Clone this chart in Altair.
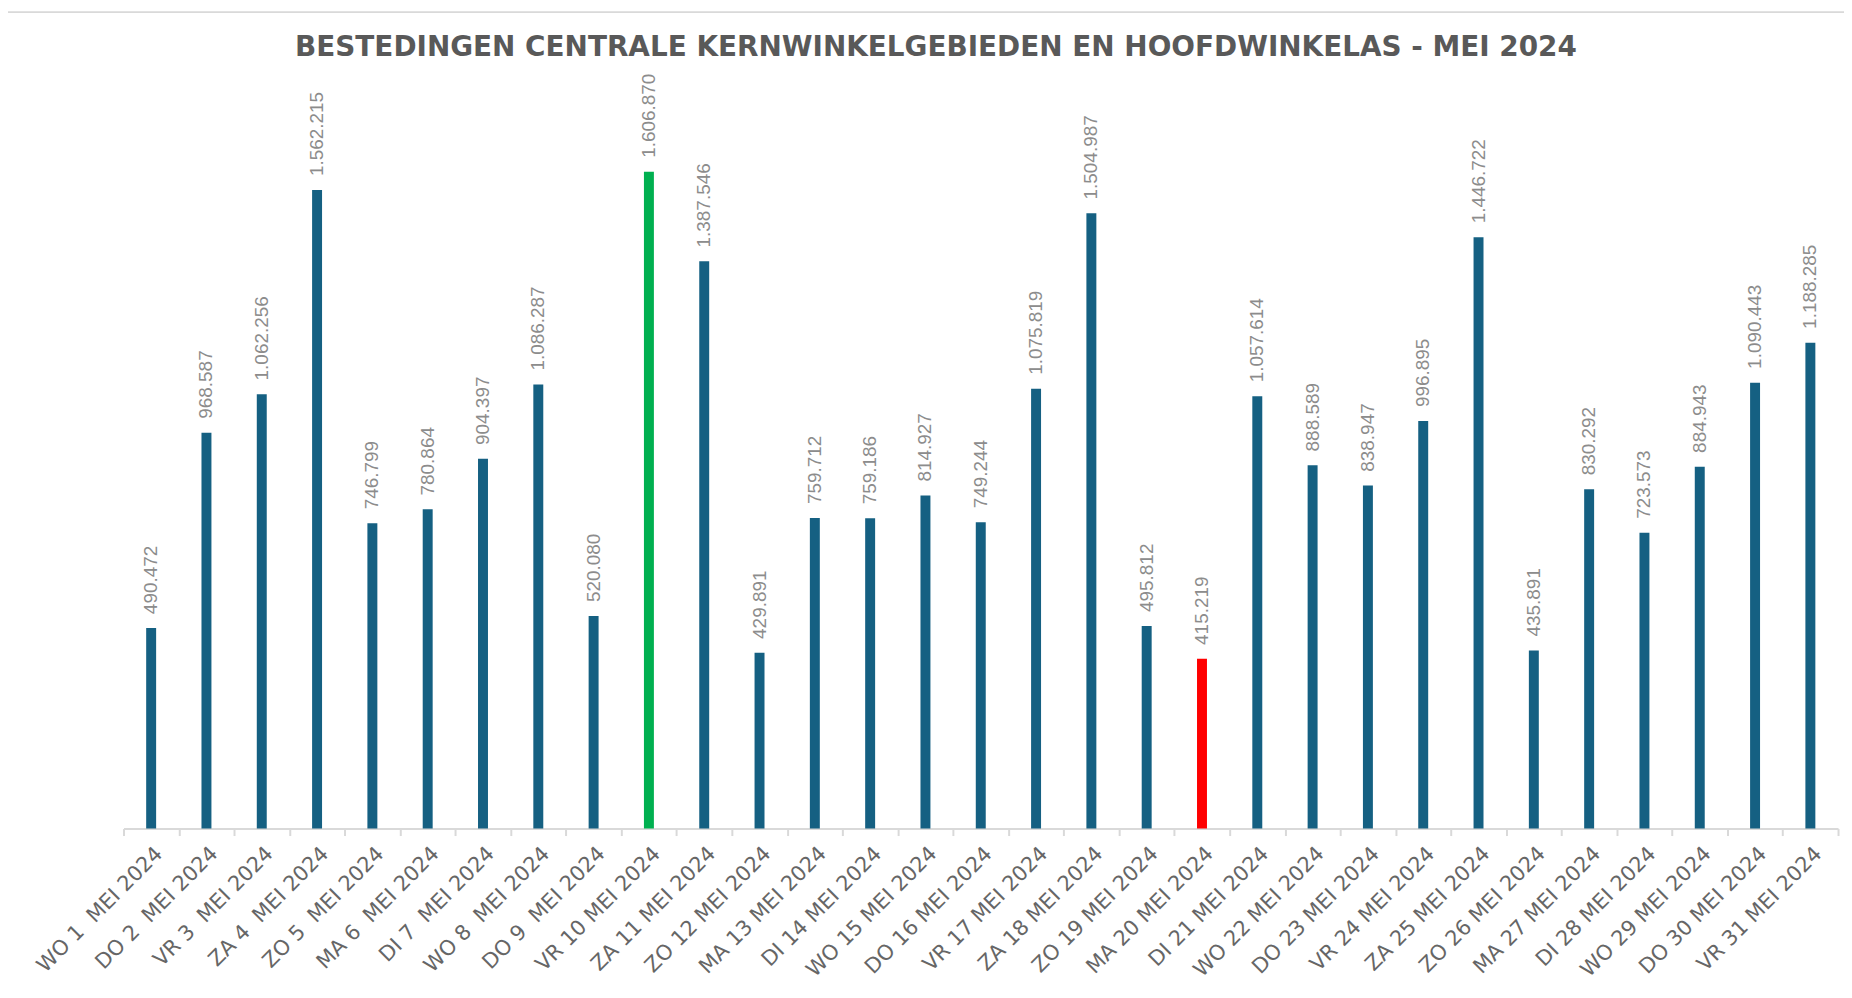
import altair as alt
import pandas as pd

days = ["WO 1", "DO 2", "VR 3", "ZA 4", "ZO 5", "MA 6", "DI 7", "WO 8", "DO 9", "VR 10",
        "ZA 11", "ZO 12", "MA 13", "DI 14", "WO 15", "DO 16", "VR 17", "ZA 18", "ZO 19", "MA 20",
        "DI 21", "WO 22", "DO 23", "VR 24", "ZA 25", "ZO 26", "MA 27", "DI 28", "WO 29", "DO 30", "VR 31"]
values = [490472, 968587, 1062256, 1562215, 746799, 780864, 904397, 1086287, 520080, 1606870,
          1387546, 429891, 759712, 759186, 814927, 749244, 1075819, 1504987, 495812, 415219,
          1057614, 888589, 838947, 996895, 1446722, 435891, 830292, 723573, 884943, 1090443, 1188285]
title_text = "BESTEDINGEN CENTRALE KERNWINKELGEBIEDEN EN HOOFDWINKELAS - MEI 2024"

labels = []
for d in days:
    num = d.split(" ")[1]
    sep = "\u00a0 " if len(num) == 1 else " "
    labels.append(d + sep + "MEI 2024")

vmax, vmin = max(values), min(values)
df = pd.DataFrame({
    "dag": labels,
    "waarde": values,
    "tekst": [f"{v:,}".replace(",", ".") for v in values],
    "status": ["max" if v == vmax else ("min" if v == vmin else "normaal") for v in values],
})

W, H = 1722, 739
x_enc = alt.X("dag:N", sort=labels, title=None,
              scale=alt.Scale(paddingInner=0, paddingOuter=0),
              axis=alt.Axis(labelAngle=-45, labelFont="DejaVu Sans", labelFontSize=21,
                            labelColor="#666666", domainColor="#d9d9d9", domainWidth=2,
                            tickColor="#d9d9d9", tickSize=7, tickWidth=2, tickBand="extent",
                            labelPadding=7, grid=False))
y_enc = alt.Y("waarde:Q", scale=alt.Scale(domain=[0, 1800000], nice=False), axis=None)

base = alt.Chart(df)
bars = base.mark_bar(size=10).encode(
    x=x_enc, y=y_enc,
    color=alt.Color("status:N", legend=None,
                    scale=alt.Scale(domain=["normaal", "max", "min"],
                                    range=["#156082", "#00B050", "#FF0000"])),
)
text = base.mark_text(angle=270, align="left", baseline="middle", dx=14,
                      font="Liberation Sans", fontSize=19, color="#8c8c8c").encode(
    x=alt.X("dag:N", sort=labels), y=y_enc, text="tekst:N")

one = pd.DataFrame({"titel": [title_text]})
left_border = alt.Chart(one).mark_rule(color="#d9d9d9", strokeWidth=2).encode(
    x=alt.value(-117), y=alt.value(-81), y2=alt.value(1000))
top_border = alt.Chart(one).mark_rule(color="#d9d9d9", strokeWidth=2).encode(
    x=alt.value(-117), x2=alt.value(1800), y=alt.value(-81))
title = alt.Chart(one).mark_text(font="DejaVu Sans", fontSize=28, fontWeight="bold",
                                 color="#595959", align="center", baseline="middle").encode(
    x=alt.value(816), y=alt.value(-45), text="titel:N")

chart = alt.layer(left_border, top_border, title, bars, text).properties(
    width=W, height=H,
    autosize=alt.AutoSizeParams(type="none"),
    padding={"left": 116, "top": 83, "right": 6, "bottom": 160},
).configure_view(stroke=None)

chart.save("out.html", embed_options={"renderer": "svg", "actions": False})
